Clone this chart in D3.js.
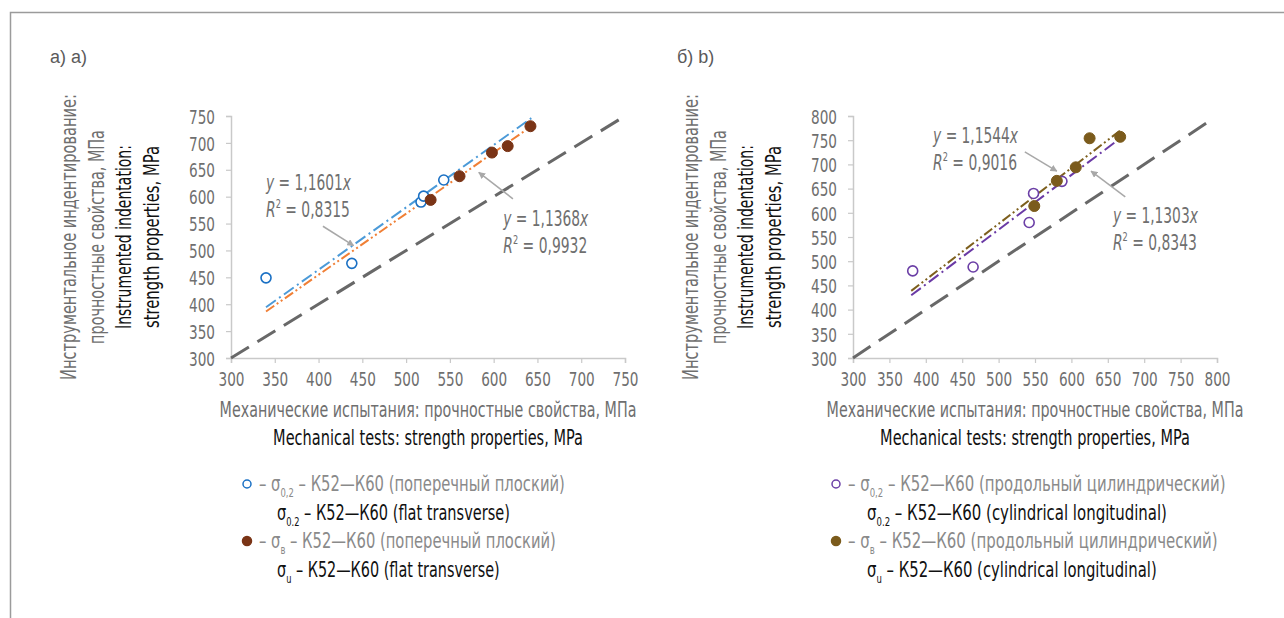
<!DOCTYPE html>
<html>
<head>
<meta charset="utf-8">
<script src="https://cdn.jsdelivr.net/npm/d3@7"></script>
<style>
  body { margin: 0; background: #fff; }
  svg { display: block; }
</style>
</head>
<body>
<svg id="chart" width="1284" height="618"></svg>
<script>
// ---------- data ----------
const leftTicks = [300, 350, 400, 450, 500, 550, 600, 650, 700, 750];
const rightTicks = [300, 350, 400, 450, 500, 550, 600, 650, 700, 750, 800];

// a) flat transverse
const leftYieldX = [340, 438, 517, 520, 543];
const leftYieldY = [449, 476, 590, 601, 631];
const leftUltX = [528, 561, 598, 616, 642];
const leftUltY = [594, 638, 682, 694, 731];
const leftSlopes = [1.1601, 1.1368];   // yield, ultimate
const leftR2 = [0.8315, 0.9932];
const leftFitRange = [340, 643];

// b) cylindrical longitudinal
const rightYieldX = [382, 465, 542, 548, 587];
const rightYieldY = [480, 488, 580, 640, 665];
const rightUltX = [549, 580, 606, 625, 667];
const rightUltY = [614, 666, 694, 754, 757];
const rightSlopes = [1.1303, 1.1544];
const rightR2 = [0.8343, 0.9016];
const rightFitRange = [380, 667];

const xTitleRu = 'Механические испытания: прочностные свойства, МПа';
const xTitleEn = 'Mechanical tests: strength properties, MPa';
const yTitleRu = ['Инструментальное индентирование:', 'прочностные свойства, МПа'];
const yTitleEn = ['Instrumented indentation:', 'strength properties, MPa'];

// ---------- styles ----------
const cond = "'Liberation Sans Narrow', 'DejaVu Sans Condensed', 'Roboto Condensed', 'Roboto', 'Liberation Sans', sans-serif";
const grayText = '#6f6f6f';
const axisColor = '#c9c9c9';

const svg = d3.select('#chart');

svg.append('path')
  .attr('d', 'M10.5,640 V12.5 H1290')
  .attr('fill', 'none')
  .attr('stroke', '#9b9b9b')
  .attr('stroke-width', 1.5);

const defs = svg.append('defs');
defs.append('marker')
  .attr('id', 'arrow')
  .attr('viewBox', '0 0 10 10')
  .attr('refX', 9).attr('refY', 5)
  .attr('markerWidth', 7).attr('markerHeight', 7)
  .attr('markerUnits', 'userSpaceOnUse')
  .attr('orient', 'auto')
  .append('path')
  .attr('d', 'M0,0 L10,5 L0,10 z')
  .attr('fill', '#a8a8a8');

// squeeze a text horizontally to the width it has in the (condensed-font) original
function fit(sel, w, px, py, rot) {
  const n = sel.node().getComputedTextLength();
  const k = n > 0 ? w / n : 1;
  sel.attr('x', 0).attr('y', 0)
    .attr('transform', `translate(${px},${py})${rot ? ` rotate(${rot})` : ''} scale(${k},1)`);
  return sel;
}

const comma = v => d3.format('.4f')(v).replace('.', ',');

function drawPanel(cfg) {
  const g = svg.append('g');
  const x = d3.scaleLinear().domain(cfg.domain).range([cfg.box.x0, cfg.box.x1]);
  const y = d3.scaleLinear().domain(cfg.domain).range([cfg.box.y0, cfg.box.y1]);

  // panel letter
  g.append('text')
    .attr('x', cfg.letter.x).attr('y', cfg.letter.y)
    .attr('font-family', "'Liberation Sans', Arial, sans-serif")
    .attr('font-size', 18).attr('fill', '#5a5a5a')
    .text(cfg.letter.text);

  // axes
  const ax = g.append('g')
    .attr('transform', `translate(0,${cfg.box.y0})`)
    .call(d3.axisBottom(x).tickValues(cfg.ticks).tickSize(5).tickPadding(6).tickFormat(d3.format('d')));
  const ay = g.append('g')
    .attr('transform', `translate(${cfg.box.x0},0)`)
    .call(d3.axisLeft(y).tickValues(cfg.ticks).tickSize(5).tickPadding(11).tickFormat(d3.format('d')));
  [ax, ay].forEach(a => {
    a.select('.domain').attr('stroke', axisColor).attr('stroke-width', 1.5);
    a.selectAll('.tick line').attr('stroke', axisColor).attr('stroke-width', 1.2);
    a.selectAll('.tick text')
      .attr('font-family', cond).attr('font-size', 20).attr('fill', grayText);
  });
  ay.selectAll('.tick text').attr('dy', '0.36em');
  ax.selectAll('.tick text').attr('dy', '0.85em');
  [ax, ay].forEach(a => a.selectAll('.tick text').each(function () {
    const t = d3.select(this);
    const k = 26 / this.getComputedTextLength();
    t.attr('x', (+t.attr('x') || 0) / k).attr('transform', `scale(${k},1)`);
  }));

  // y = x reference
  g.append('line')
    .attr('x1', x(cfg.domain[0])).attr('y1', y(cfg.domain[0]))
    .attr('x2', x(cfg.diagEnd)).attr('y2', y(cfg.diagEnd))
    .attr('stroke', '#686868').attr('stroke-width', 3)
    .attr('stroke-dasharray', '21 10');

  // trend lines
  cfg.trends.forEach(t => {
    g.append('line')
      .attr('x1', x(cfg.fitRange[0])).attr('y1', y(cfg.fitRange[0] * t.slope))
      .attr('x2', x(cfg.fitRange[1])).attr('y2', y(cfg.fitRange[1] * t.slope))
      .attr('stroke', t.color).attr('stroke-width', 2)
      .attr('stroke-dasharray', t.dash);
  });

  // points
  cfg.series.forEach(s => {
    const pts = s.xs.map((v, i) => [v, s.ys[i]]);
    g.selectAll(null)
      .data(pts)
      .join('circle')
      .attr('cx', d => x(d[0])).attr('cy', d => y(d[1]))
      .attr('r', s.filled ? 5.5 : 5)
      .attr('fill', s.filled ? s.color : '#fff')
      .attr('stroke', s.color)
      .attr('stroke-width', s.filled ? 1 : 1.6);
  });

  // regression annotations
  cfg.trends.forEach(t => {
    const a = t.note;
    const lx = x(a.at[0]), ly = y(a.at[1]);
    const t1 = g.append('text')
      .attr('font-family', cond).attr('font-size', 22).attr('fill', grayText);
    t1.append('tspan').attr('font-style', 'italic').text('y');
    t1.append('tspan').text(' = ' + comma(t.slope));
    t1.append('tspan').attr('font-style', 'italic').text('x');
    fit(t1, 85, lx, ly);
    const t2 = g.append('text')
      .attr('font-family', cond).attr('font-size', 22).attr('fill', grayText);
    t2.append('tspan').attr('font-style', 'italic').text('R');
    t2.append('tspan').attr('font-size', 13).attr('dy', -9).text('2');
    t2.append('tspan').attr('dy', 9).text(' = ' + comma(t.r2));
    fit(t2, 84, lx, ly + 27);
    g.append('line')
      .attr('x1', x(a.from[0])).attr('y1', y(a.from[1]))
      .attr('x2', x(a.to[0])).attr('y2', y(a.to[1]))
      .attr('stroke', '#a8a8a8').attr('stroke-width', 1.5)
      .attr('marker-end', 'url(#arrow)');
  });

  // axis titles
  const cx = (cfg.box.x0 + cfg.box.x1) / 2;
  fit(g.append('text')
    .attr('text-anchor', 'middle').attr('font-family', cond).attr('font-size', 21)
    .attr('fill', grayText).text(xTitleRu), 417, cx, 417);
  fit(g.append('text')
    .attr('text-anchor', 'middle').attr('font-family', cond).attr('font-size', 21)
    .attr('fill', '#111').text(xTitleEn), 310, cx, 445);

  const cy = (cfg.box.y0 + cfg.box.y1) / 2;
  const yLines = [
    {text: yTitleRu[0], fill: grayText, w: 286},
    {text: yTitleRu[1], fill: grayText, w: 214},
    {text: yTitleEn[0], fill: '#111', w: 184},
    {text: yTitleEn[1], fill: '#111', w: 182}
  ];
  yLines.forEach((l, i) => {
    fit(g.append('text')
      .attr('text-anchor', 'middle').attr('dy', '0.35em')
      .attr('font-family', cond).attr('font-size', 21)
      .attr('fill', l.fill).text(l.text), l.w, cfg.yTitleX[i], cy, -90);
  });

  // legend
  const L = cfg.legend;
  cfg.series.forEach((s, i) => {
    const yy = L.y + i * 57;
    g.append('circle')
      .attr('cx', L.x).attr('cy', yy).attr('r', s.filled ? 4.5 : 4)
      .attr('fill', s.filled ? s.color : '#fff')
      .attr('stroke', s.color).attr('stroke-width', 1.5);
    const ru = g.append('text')
      .attr('font-family', cond).attr('font-size', 21).attr('fill', '#8a8a8a');
    ru.append('tspan').text('– σ');
    ru.append('tspan').attr('font-size', 12).attr('dy', 6).text(s.subRu);
    ru.append('tspan').attr('dy', -6).text(' – К52—К60 (' + L.ru + ')');
    fit(ru, L.wRu[i], L.x + 12, yy + 7);
    const en = g.append('text')
      .attr('font-family', cond).attr('font-size', 21).attr('fill', '#111');
    en.append('tspan').text('σ');
    en.append('tspan').attr('font-size', 12).attr('dy', 6).text(s.subEn);
    en.append('tspan').attr('dy', -6).text(' – К52—К60 (' + L.en + ')');
    fit(en, L.wEn[i], L.x + L.indent, yy + 36);
  });
}

drawPanel({
  box: {x0: 231, x1: 625, y0: 358, y1: 116},
  domain: [300, 750],
  ticks: leftTicks,
  diagEnd: 750,
  fitRange: leftFitRange,
  letter: {x: 50, y: 63, text: 'а) a)'},
  yTitleX: [69, 97, 124, 152],
  series: [
    {xs: leftYieldX, ys: leftYieldY, color: '#1a70c4', filled: false, subRu: '0,2', subEn: '0.2'},
    {xs: leftUltX, ys: leftUltY, color: '#7a3416', filled: true, subRu: 'в', subEn: 'u'}
  ],
  trends: [
    {slope: leftSlopes[0], r2: leftR2[0], color: '#4b9ad8', dash: '12 4 2 4',
     note: {at: [340, 612], from: [405, 545], to: [440, 509]}},
    {slope: leftSlopes[1], r2: leftR2[1], color: '#f07f35', dash: '10 3 2 3 2 3',
     note: {at: [611, 546], from: [622, 596], to: [583, 645]}}
  ],
  legend: {x: 247, y: 484, indent: 30, ru: 'поперечный плоский', en: 'flat transverse',
           wRu: [306, 297], wEn: [233, 223]}
});

drawPanel({
  box: {x0: 853, x1: 1217, y0: 358, y1: 116},
  domain: [300, 800],
  ticks: rightTicks,
  diagEnd: 790,
  fitRange: rightFitRange,
  letter: {x: 677, y: 63, text: 'б) b)'},
  yTitleX: [691, 719, 746, 774],
  series: [
    {xs: rightYieldX, ys: rightYieldY, color: '#6b3fa6', filled: false, subRu: '0,2', subEn: '0.2'},
    {xs: rightUltX, ys: rightUltY, color: '#7b5b1c', filled: true, subRu: 'в', subEn: 'u'}
  ],
  trends: [
    {slope: rightSlopes[0], r2: rightR2[0], color: '#6a3aa5', dash: '12 4 2 4',
     note: {at: [657, 578], from: [674, 633], to: [627, 686]}},
    {slope: rightSlopes[1], r2: rightR2[1], color: '#7d5f1d', dash: '10 3 2 3 2 3',
     note: {at: [410, 745], from: [536, 726], to: [580, 686]}}
  ],
  legend: {x: 836, y: 484, indent: 31, ru: 'продольный цилиндрический', en: 'cylindrical longitudinal',
           wRu: [378, 370], wEn: [300, 290]}
});
</script>
</body>
</html>
